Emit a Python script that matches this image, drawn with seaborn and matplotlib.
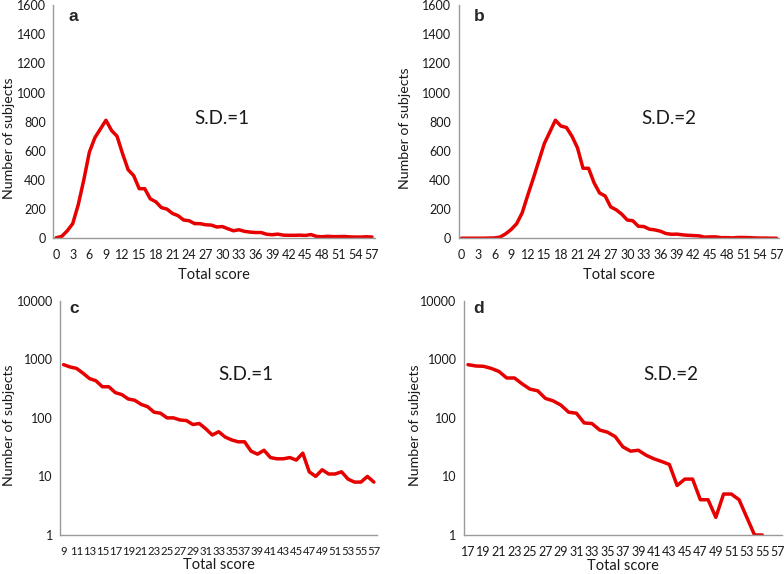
import numpy as np
import pandas as pd
import seaborn as sns
import matplotlib.pyplot as plt
from matplotlib.ticker import FixedLocator, NullFormatter, NullLocator

# ----------- Data -----------

scores = list(range(0, 58))

# S.D.=1 : number of subjects per total score 0..57
sd1_counts = [3, 12, 50, 100, 230, 400, 590, 690, 750, 810,
              740, 700, 580, 470, 430, 340, 340, 270, 250, 210,
              200, 170, 155, 125, 120, 100, 100, 92, 90, 77,
              80, 65, 51, 58, 47, 42, 39, 39, 27, 24,
              28, 21, 20, 20, 21, 19, 25, 12, 10, 13,
              11, 11, 12, 9, 8, 8, 10, 8]

# S.D.=2 : number of subjects per total score 0..57
sd2_counts = [0, 0, 0, 0, 0, 1, 2, 8, 30, 60,
              100, 175, 295, 410, 530, 650, 730, 810, 770, 760,
              700, 620, 480, 480, 380, 310, 290, 215, 195, 165,
              125, 120, 82, 80, 62, 57, 48, 32, 27, 28,
              23, 20, 18, 16, 7, 9, 9, 4, 4, 2,
              5, 5, 4, 2, 1, 1, 0, 0]

log_start_sd1 = 9    # panel c starts at the mode of S.D.=1
log_start_sd2 = 17   # panel d starts at the mode of S.D.=2

df = pd.DataFrame({"score": scores, "sd1": sd1_counts, "sd2": sd2_counts})

# ----------- Figure -----------

sns.set_style("white")
plt.rcParams["font.family"] = ["Lato", "DejaVu Sans"]

RED = "#e60000"
GREY = "#9a9a9a"
TXT = "#1a1a1a"

fig = plt.figure(figsize=(7.84, 5.74), dpi=100)
ax_a = fig.add_axes([0.068, 0.585, 0.410, 0.406])
ax_b = fig.add_axes([0.585, 0.585, 0.409, 0.406])
ax_c = fig.add_axes([0.077, 0.068, 0.404, 0.408])
ax_d = fig.add_axes([0.592, 0.068, 0.405, 0.408])


def style_axis(ax, cats, label_step, xsize, xlabel_pad, ylab_xy):
    n = len(cats)
    ax.set_xlim(-0.5, n - 0.5)
    # tick marks sit between categories, labels under every few categories
    ax.xaxis.set_major_locator(FixedLocator(list(range(0, n, label_step))))
    ax.set_xticklabels([str(c) for c in cats[::label_step]])
    ax.xaxis.set_minor_locator(FixedLocator([i - 0.5 for i in range(n + 1)]))
    ax.tick_params(axis="x", which="major", length=0, labelsize=xsize, pad=8, colors=TXT)
    ax.tick_params(axis="x", which="minor", length=3.5, width=0.8, color=GREY, direction="out")
    ax.tick_params(axis="y", which="major", length=3.5, width=0.8, color=GREY,
                   direction="out", labelsize=9, labelcolor=TXT, pad=2)
    for side in ["top", "right"]:
        ax.spines[side].set_visible(False)
    for side in ["left", "bottom"]:
        ax.spines[side].set_color(GREY)
        ax.spines[side].set_linewidth(1.0)
    ax.set_xlabel("Total score", fontsize=10.5, labelpad=xlabel_pad, color=TXT)
    ax.set_ylabel("Number of subjects", fontsize=10.2, color=TXT)
    ax.yaxis.set_label_coords(*ylab_xy)


# ----------- Linear panels a, b -----------

for ax, col, letter, sd_text, tx, ylab in [(ax_a, "sd1", "a", "S.D.=1", 0.525, (-0.120, 0.43)),
                                            (ax_b, "sd2", "b", "S.D.=2", 0.656, (-0.150, 0.47))]:
    plot_df = df.assign(pos=np.arange(len(df)))
    sns.lineplot(data=plot_df, x="pos", y=col, ax=ax, color=RED, linewidth=2.5)
    ax.set_ylim(0, 1600)
    ax.set_yticks(range(0, 1601, 200))
    style_axis(ax, scores, 3, 9, 5, ylab)
    ax.text(0.047, 0.95, letter, transform=ax.transAxes, fontsize=12.5,
            fontweight="bold", family="Liberation Sans", ha="left", va="center")
    ax.text(tx, 0.515, sd_text, transform=ax.transAxes, fontsize=13.5,
            ha="center", va="center", color=TXT)

# ----------- Log panels c, d -----------

for ax, col, start, letter, sd_text, tx, xsize, ylab in [
        (ax_c, "sd1", log_start_sd1, "c", "S.D.=1", 0.587, 8.2, (-0.142, 0.47)),
        (ax_d, "sd2", log_start_sd2, "d", "S.D.=2", 0.651, 9, (-0.136, 0.47))]:
    sub = df[df["score"] >= start].reset_index(drop=True)
    sub = sub.assign(pos=np.arange(len(sub)))
    sub_pos = sub[sub[col] > 0]
    sns.lineplot(data=sub_pos, x="pos", y=col, ax=ax, color=RED, linewidth=2.5)
    ax.set_yscale("log")
    ax.set_ylim(1, 10000)
    ax.set_yticks([1, 10, 100, 1000, 10000])
    ax.set_yticklabels(["1", "10", "100", "1000", "10000"])
    ax.yaxis.set_minor_locator(NullLocator())
    ax.yaxis.set_minor_formatter(NullFormatter())
    style_axis(ax, list(sub["score"]), 2, xsize, 1, ylab)
    ax.text(0.028, 0.966, letter, transform=ax.transAxes, fontsize=12.5,
            fontweight="bold", family="Liberation Sans", ha="left", va="center")
    ax.text(tx, 0.684, sd_text, transform=ax.transAxes, fontsize=13.5,
            ha="center", va="center", color=TXT)

fig.savefig("out.png", dpi=100)
